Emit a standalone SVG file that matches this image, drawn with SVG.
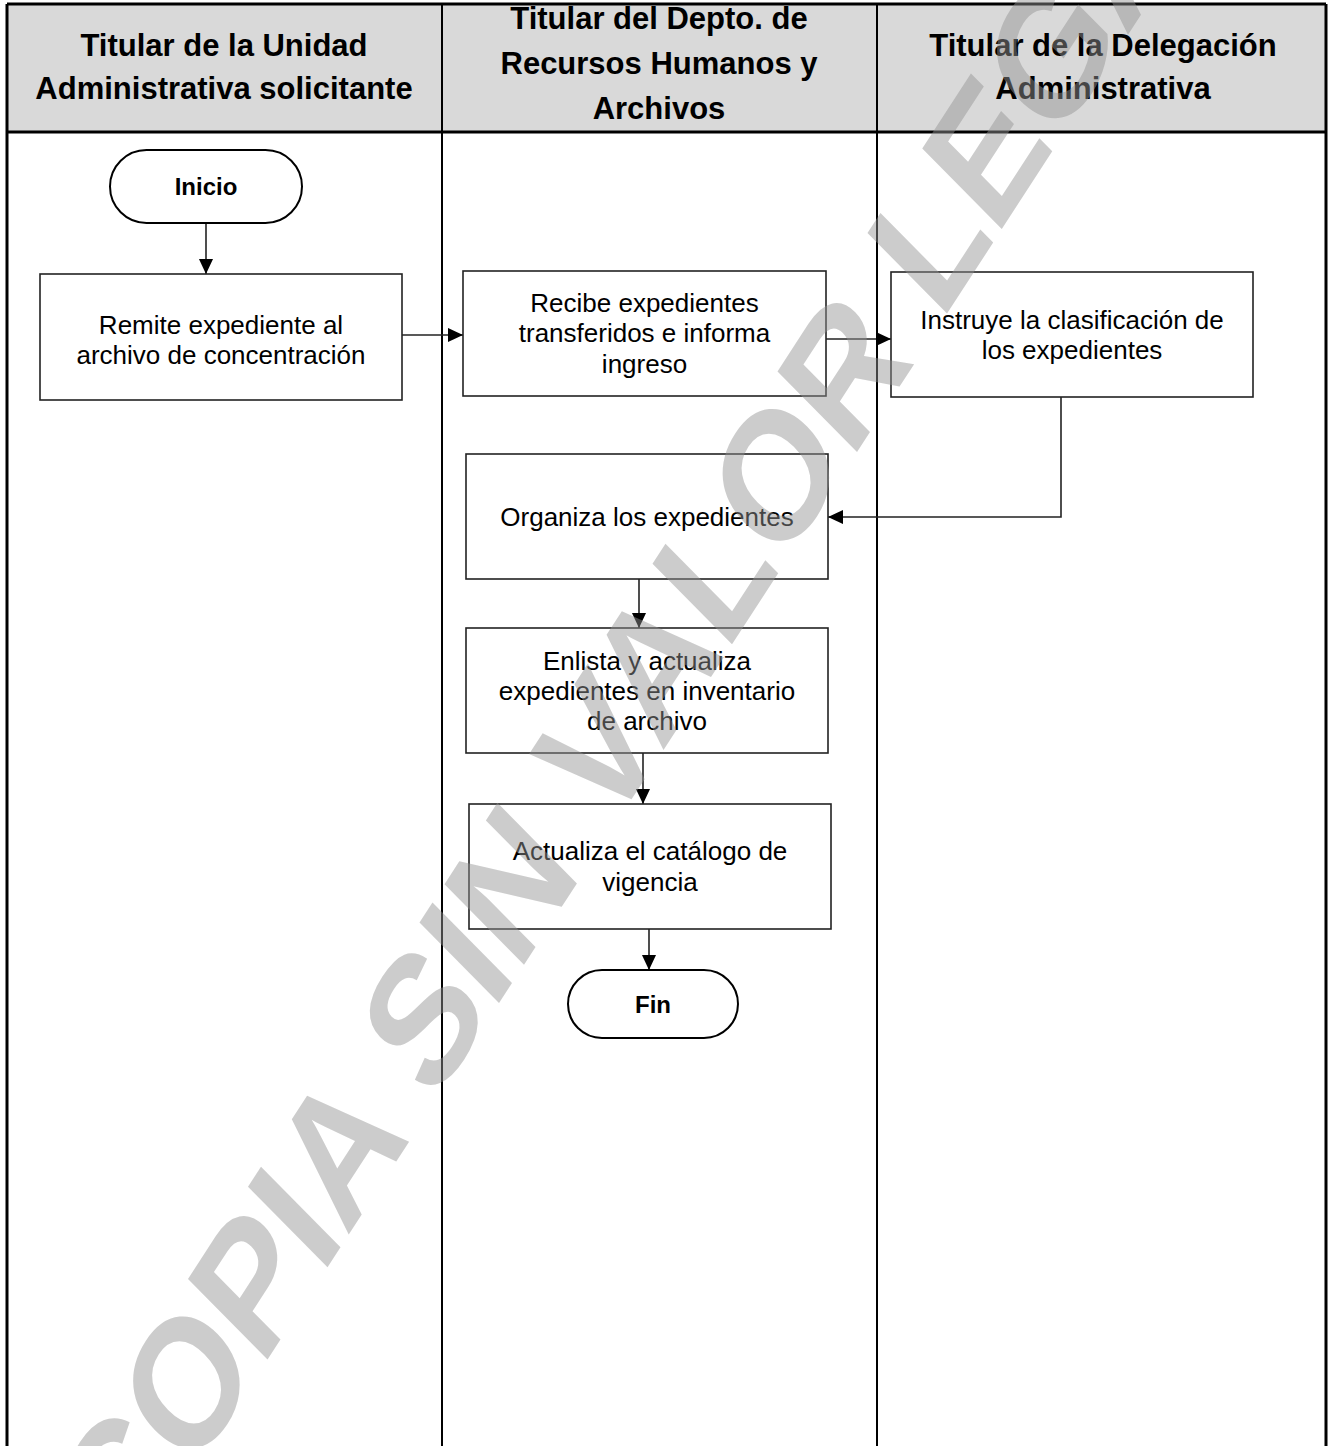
<svg xmlns="http://www.w3.org/2000/svg" width="1331" height="1446" viewBox="0 0 1331 1446">
<defs>
<marker id="arrow" viewBox="0 0 16 16" markerWidth="16" markerHeight="15" refX="16" refY="7.5" orient="auto" markerUnits="userSpaceOnUse">
<path d="M0,0 L16,7.5 L0,15 z" fill="#000"/>
</marker>
<style>
.hdr{fill:#d9d9d9;stroke:none}
.frame{fill:none;stroke:#000;stroke-width:3}
.lane{fill:none;stroke:#000;stroke-width:2}
.box{fill:#fff;stroke:#222;stroke-width:1.6}
.term{fill:#fff;stroke:#000;stroke-width:2}
.ht{font-family:"Liberation Sans",Arial,sans-serif;font-weight:bold;font-size:31px;fill:#000;text-anchor:middle}
.bt{font-family:"Liberation Sans",Arial,sans-serif;font-size:26px;fill:#000;text-anchor:middle}
.tt{font-family:"Liberation Sans",Arial,sans-serif;font-weight:bold;font-size:24px;fill:#000;text-anchor:middle}
.conn{fill:none;stroke:#222;stroke-width:1.6;marker-end:url(#arrow)}
.wm{font-family:"Liberation Sans",Arial,sans-serif;font-weight:bold;font-size:165px;fill:#929292;fill-opacity:0.47}
</style>
</defs>
<rect width="1331" height="1446" fill="#fff"/>
<g id="lanes">
<rect class="hdr" x="7" y="4" width="1319" height="128"/>
<line class="lane" x1="442" y1="4" x2="442" y2="1446"/>
<line class="lane" x1="877" y1="4" x2="877" y2="1446"/>
<line class="frame" x1="7" y1="4" x2="1326" y2="4"/>
<line class="frame" x1="7" y1="132" x2="1326" y2="132"/>
<line class="frame" x1="7" y1="4" x2="7" y2="1446"/>
<line class="frame" x1="1326" y1="4" x2="1326" y2="1446"/>
<text class="ht" x="224" y="56">Titular de la Unidad</text>
<text class="ht" x="224" y="99">Administrativa solicitante</text>
<text class="ht" x="659" y="29">Titular del Depto. de</text>
<text class="ht" x="659" y="74">Recursos Humanos y</text>
<text class="ht" x="659" y="119">Archivos</text>
<text class="ht" x="1103" y="56">Titular de la Delegación</text>
<text class="ht" x="1103" y="99">Administrativa</text>
</g>
<g id="connectors">
<line class="conn" x1="206" y1="223" x2="206" y2="274"/>
<line class="conn" x1="402" y1="335" x2="463" y2="335"/>
<line class="conn" x1="826" y1="339" x2="891" y2="339"/>
<polyline class="conn" points="1061,397 1061,517 828,517"/>
<line class="conn" x1="639" y1="579" x2="639" y2="628"/>
<line class="conn" x1="643" y1="753" x2="643" y2="804"/>
<line class="conn" x1="649" y1="929" x2="649" y2="970"/>
</g>
<g id="inicio">
<rect class="term" x="110" y="150" width="192" height="73" rx="36.5"/>
<text class="tt" x="206" y="195">Inicio</text>
</g>
<g id="remite">
<rect class="box" x="40" y="274" width="362" height="126"/>
<text class="bt" x="221" y="334">Remite expediente al</text>
<text class="bt" x="221" y="364">archivo de concentración</text>
</g>
<g id="recibe">
<rect class="box" x="463" y="271" width="363" height="125"/>
<text class="bt" x="644.5" y="312">Recibe expedientes</text>
<text class="bt" x="644.5" y="342">transferidos e informa</text>
<text class="bt" x="644.5" y="373">ingreso</text>
</g>
<g id="instruye">
<rect class="box" x="891" y="272" width="362" height="125"/>
<text class="bt" x="1072" y="329">Instruye la clasificación de</text>
<text class="bt" x="1072" y="359">los expedientes</text>
</g>
<g id="organiza">
<rect class="box" x="466" y="454" width="362" height="125"/>
<text class="bt" x="647" y="526">Organiza los expedientes</text>
</g>
<g id="enlista">
<rect class="box" x="466" y="628" width="362" height="125"/>
<text class="bt" x="647" y="670">Enlista y actualiza</text>
<text class="bt" x="647" y="700">expedientes en inventario</text>
<text class="bt" x="647" y="730">de archivo</text>
</g>
<g id="actualiza">
<rect class="box" x="469" y="804" width="362" height="125"/>
<text class="bt" x="650" y="860">Actualiza el catálogo de</text>
<text class="bt" x="650" y="891">vigencia</text>
</g>
<g id="fin">
<rect class="term" x="568" y="970" width="170" height="68" rx="34"/>
<text class="tt" x="653" y="1013">Fin</text>
</g>
<g id="watermark">
<text class="wm" transform="matrix(0.545,-0.839,0.70,0.71,126.6,1576.4)">COPIA SIN VALOR LEGAL</text>
</g>
</svg>
